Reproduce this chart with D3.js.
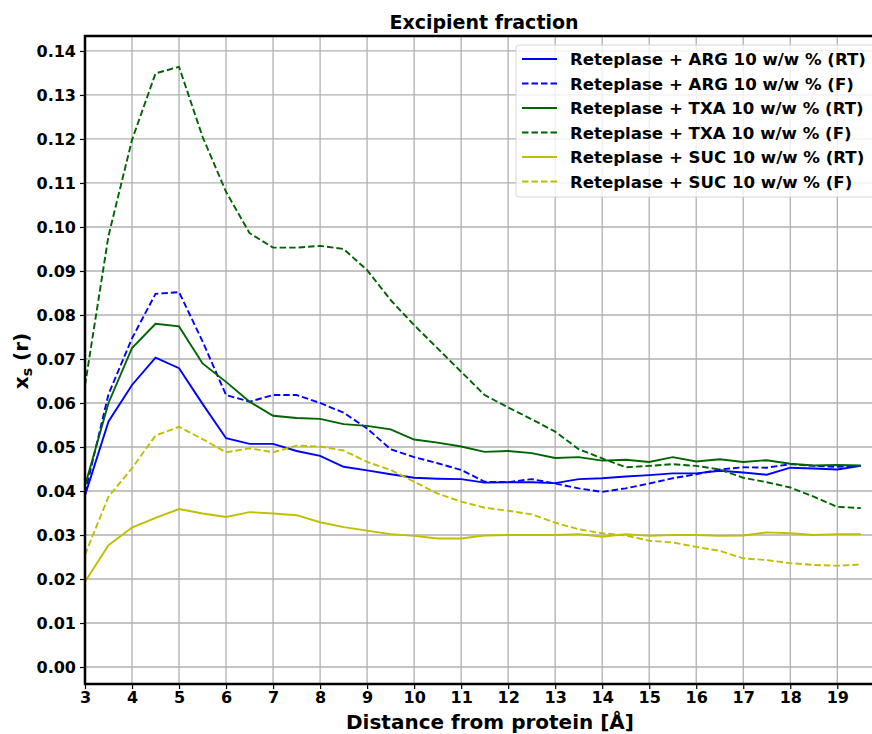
<!DOCTYPE html>
<html>
<head>
<meta charset="utf-8">
<script src="https://cdn.jsdelivr.net/npm/d3@7"></script>
<style>
  html, body { margin: 0; padding: 0; background: #fff; }
  svg { display: block; font-family: "DejaVu Sans", sans-serif; }
</style>
</head>
<body>
<svg id="chart" width="872" height="734"></svg>
<script>
// Distance from the protein surface, in Å
const distance = [3, 3.5, 4, 4.5, 5, 5.5, 6, 6.5, 7, 7.5, 8, 8.5, 9, 9.5, 10, 10.5, 11,
  11.5, 12, 12.5, 13, 13.5, 14, 14.5, 15, 15.5, 16, 16.5, 17, 17.5, 18, 18.5, 19, 19.5];

// Excipient fraction profiles
const argRT = [0.0390, 0.0558, 0.0641, 0.0703, 0.0679, 0.0598, 0.0520, 0.0507, 0.0507, 0.0491, 0.0480, 0.0455,
  0.0447, 0.0438, 0.0430, 0.0428, 0.0427, 0.0419, 0.0420, 0.0420, 0.0418, 0.0427, 0.0429, 0.0433,
  0.0436, 0.0440, 0.0440, 0.0446, 0.0442, 0.0437, 0.0453, 0.0451, 0.0449, 0.0457];
const argF = [0.0395, 0.0620, 0.0747, 0.0848, 0.0852, 0.0740, 0.0618, 0.0603, 0.0618, 0.0618, 0.0600, 0.0578,
  0.0542, 0.0495, 0.0477, 0.0463, 0.0448, 0.0421, 0.0420, 0.0427, 0.0417, 0.0406, 0.0398, 0.0406,
  0.0417, 0.0429, 0.0438, 0.0449, 0.0454, 0.0453, 0.0461, 0.0457, 0.0455, 0.0457];
const txaRT = [0.0412, 0.0600, 0.0725, 0.0780, 0.0774, 0.0690, 0.0648, 0.0603, 0.0571, 0.0566, 0.0564, 0.0552,
  0.0548, 0.0540, 0.0517, 0.0510, 0.0501, 0.0489, 0.0491, 0.0486, 0.0475, 0.0477, 0.0469, 0.0471,
  0.0466, 0.0477, 0.0467, 0.0472, 0.0466, 0.0470, 0.0462, 0.0458, 0.0459, 0.0458];
const txaF = [0.0640, 0.0980, 0.1198, 0.1349, 0.1364, 0.1205, 0.1080, 0.0986, 0.0953, 0.0953, 0.0957, 0.0950,
  0.0902, 0.0834, 0.0777, 0.0724, 0.0671, 0.0618, 0.0590, 0.0563, 0.0535, 0.0495, 0.0474, 0.0454,
  0.0457, 0.0461, 0.0457, 0.0449, 0.0430, 0.0420, 0.0408, 0.0387, 0.0364, 0.0361];
const sucRT = [0.0194, 0.0277, 0.0317, 0.0339, 0.0359, 0.0349, 0.0341, 0.0352, 0.0349, 0.0345, 0.0329, 0.0318,
  0.0310, 0.0302, 0.0298, 0.0292, 0.0292, 0.0299, 0.0300, 0.0300, 0.0300, 0.0302, 0.0296, 0.0302,
  0.0298, 0.0300, 0.0300, 0.0298, 0.0299, 0.0306, 0.0304, 0.0300, 0.0302, 0.0302];
const sucF = [0.0255, 0.0387, 0.0452, 0.0526, 0.0546, 0.0518, 0.0488, 0.0497, 0.0488, 0.0503, 0.0501, 0.0492,
  0.0466, 0.0448, 0.0421, 0.0394, 0.0376, 0.0362, 0.0355, 0.0347, 0.0328, 0.0313, 0.0304, 0.0299,
  0.0287, 0.0283, 0.0273, 0.0264, 0.0247, 0.0243, 0.0236, 0.0232, 0.0230, 0.0233];

const seriesNames = [
  "Reteplase + ARG 10 w/w % (RT)",
  "Reteplase + ARG 10 w/w % (F)",
  "Reteplase + TXA 10 w/w % (RT)",
  "Reteplase + TXA 10 w/w % (F)",
  "Reteplase + SUC 10 w/w % (RT)",
  "Reteplase + SUC 10 w/w % (F)"
];
const seriesValues = [argRT, argF, txaRT, txaF, sucRT, sucF];
const seriesColors = ["#0000ff", "#0000ff", "#006400", "#006400", "#bfbf00", "#bfbf00"];
const seriesDashed = [false, true, false, true, false, true];

const xTicks = [3, 4, 5, 6, 7, 8, 9, 10, 11, 12, 13, 14, 15, 16, 17, 18, 19];
const yTicks = [0, 0.01, 0.02, 0.03, 0.04, 0.05, 0.06, 0.07, 0.08, 0.09, 0.10, 0.11, 0.12, 0.13, 0.14];

(function draw() {
  const svg = d3.select("#chart");
  const pL = 85, pT = 36, pB = 684, pR = 889;

  const x = d3.scaleLinear().domain([3, 20.1]).range([pL, pR]);
  const y = d3.scaleLinear().domain([-0.00386, 0.1434]).range([pB, pT]);

  // grid
  const grid = svg.append("g").attr("stroke", "#b0b0b0").attr("stroke-width", 1.3);
  grid.selectAll("line.v").data(xTicks).join("line").attr("class", "v")
    .attr("x1", d => x(d)).attr("x2", d => x(d)).attr("y1", pT).attr("y2", pB);
  grid.selectAll("line.h").data(yTicks).join("line").attr("class", "h")
    .attr("x1", pL).attr("x2", pR).attr("y1", d => y(d)).attr("y2", d => y(d));

  // series lines
  const line = d3.line().x((d, i) => x(distance[i])).y(d => y(d));
  seriesValues.forEach((vals, k) => {
    svg.append("path")
      .datum(vals)
      .attr("d", line)
      .attr("fill", "none")
      .attr("stroke", seriesColors[k])
      .attr("stroke-width", 1.9)
      .attr("stroke-dasharray", seriesDashed[k] ? "6.5,3" : null);
  });

  // axes
  const xAxis = svg.append("g").attr("transform", `translate(0,${pB})`)
    .call(d3.axisBottom(x).tickValues(xTicks).tickFormat(d3.format("d")).tickSize(5).tickPadding(3));
  const yAxis = svg.append("g").attr("transform", `translate(${pL},0)`)
    .call(d3.axisLeft(y).tickValues(yTicks).tickFormat(d3.format(".2f")).tickSize(5).tickPadding(4));
  [xAxis, yAxis].forEach(a => {
    a.select(".domain").remove();
    a.selectAll(".tick line").attr("stroke", "#000").attr("stroke-width", 1.2);
    a.selectAll(".tick text").attr("fill", "#000")
      .style("font-family", "DejaVu Sans").style("font-weight", "bold").style("font-size", "16px");
  });

  // frame
  svg.append("rect")
    .attr("x", pL).attr("y", pT).attr("width", pR - pL).attr("height", pB - pT)
    .attr("fill", "none").attr("stroke", "#000").attr("stroke-width", 2.5);

  // title and axis labels
  svg.append("text").attr("x", 484).attr("y", 29).attr("text-anchor", "middle")
    .style("font-weight", "bold").style("font-size", "19px").text("Excipient fraction");
  svg.append("text").attr("x", 490).attr("y", 729).attr("text-anchor", "middle")
    .style("font-weight", "bold").style("font-size", "20px").text("Distance from protein [Å]");
  const yl = svg.append("text")
    .attr("transform", "translate(28,361) rotate(-90)")
    .attr("text-anchor", "middle")
    .style("font-weight", "bold").style("font-size", "20px");
  yl.append("tspan").text("x");
  yl.append("tspan").attr("dy", 4).style("font-size", "14px").text("s");
  yl.append("tspan").attr("dy", -4).text(" (r)");

  // legend
  const lg = svg.append("g");
  lg.append("rect").attr("x", 516).attr("y", 45).attr("width", 370).attr("height", 152)
    .attr("rx", 3).attr("fill", "#fff").attr("fill-opacity", 0.8)
    .attr("stroke", "#d6d6d6").attr("stroke-width", 1);
  seriesNames.forEach((name, k) => {
    const yy = 59 + k * 24.5;
    lg.append("line").attr("x1", 522).attr("x2", 557).attr("y1", yy).attr("y2", yy)
      .attr("stroke", seriesColors[k]).attr("stroke-width", 1.9)
      .attr("stroke-dasharray", seriesDashed[k] ? "6.5,3" : null);
    lg.append("text").attr("x", 570).attr("y", yy + 6)
      .style("font-weight", "bold").style("font-size", "16.6px").text(name);
  });
})();
</script>
</body>
</html>
